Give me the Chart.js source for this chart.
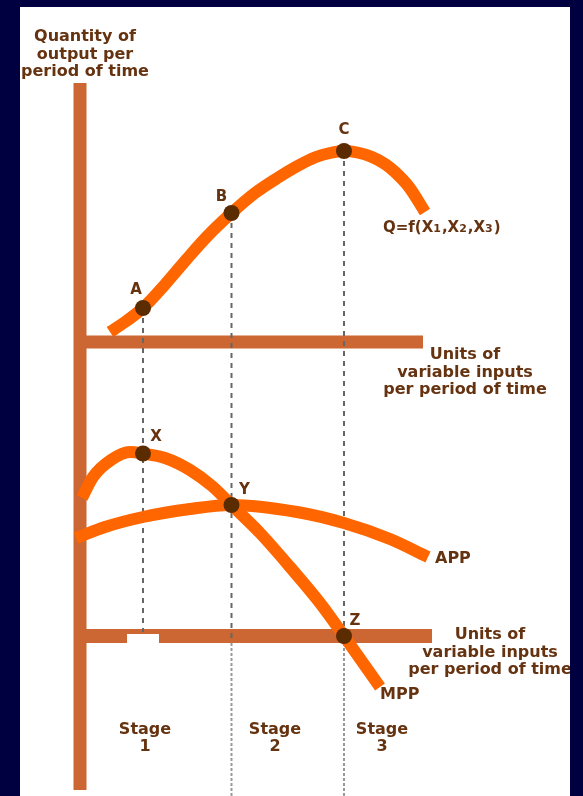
<!DOCTYPE html>
<html>
<head>
<meta charset="utf-8">
<title>Stages of production</title>
<script src="https://cdn.jsdelivr.net/npm/chart.js@4.4.1/dist/chart.umd.min.js"></script>
<style>
  html, body { margin: 0; padding: 0; background: #000040; }
  body { width: 583px; height: 796px; position: relative; overflow: hidden; }
  #chart { position: absolute; left: 20px; top: 7px; background: #ffffff; }
</style>
</head>
<body>
<canvas id="chart" width="550" height="789"></canvas>
<script>
  // total product curve Q = f(X1,X2,X3)
  const qInputs = [1.2, 1.8, 2.52, 3.4, 4.24, 5.1, 6.06, 7.0, 7.96, 8.7, 9.44, 10.0, 10.56, 11.1, 11.68, 12.2, 12.6, 13.16, 13.8];
  const qOutput = [0.4, 0.8, 1.36, 2.3, 3.28, 4.24, 5.16, 5.96, 6.6, 7.04, 7.4, 7.56, 7.64, 7.58, 7.4, 7.12, 6.8, 6.2, 5.2];

  // marginal physical product
  const mppInputs = [0.08, 0.52, 1.24, 2.0, 2.52, 3.4, 4.4, 5.28, 6.06, 7.2, 8.4, 9.6, 10.56, 12.0];
  const mppValues = [5.52, 6.36, 7.04, 7.36, 7.3, 7.12, 6.64, 6.0, 5.24, 4.12, 2.76, 1.32, 0.0, -2.04];

  // average physical product
  const appInputs = [-0.16, 1.0, 2.52, 4.4, 6.06, 8.68, 10.56, 12.4, 13.92];
  const appValues = [3.92, 4.36, 4.76, 5.08, 5.24, 4.96, 4.52, 3.88, 3.16];

  // marked points
  const topPointNames = ['A', 'B', 'C'];
  const topPointInputs = [2.52, 6.06, 10.56];
  const topPointValues = [1.36, 5.16, 7.64];

  const lowPointNames = ['X', 'Y', 'Z'];
  const lowPointInputs = [2.52, 6.06, 10.56];
  const lowPointValues = [7.3, 5.24, 0];

  const stageNames = ['Stage\n1', 'Stage\n2', 'Stage\n3'];

  const brown = '#663311';
  const orange = '#ff6600';
  const axisColor = '#cc6633';
  const dotColor = '#5a2c00';
  const fontFace = '"DejaVu Sans", sans-serif';

  function pts(xs, ys) {
    return xs.map((x, i) => ({ x: x, y: ys[i] }));
  }

  function curve(data, axis) {
    return {
      data: data, yAxisID: axis, showLine: true, order: 3,
      borderColor: orange, borderWidth: 12, borderCapStyle: 'butt',
      cubicInterpolationMode: 'monotone', pointRadius: 0
    };
  }

  function bar(data, axis, color, width) {
    return {
      data: data, yAxisID: axis, showLine: true, order: 6,
      borderColor: color, borderWidth: width, borderCapStyle: 'butt', pointRadius: 0
    };
  }

  function dashed(data, axis, dash, color) {
    return {
      data: data, yAxisID: axis, showLine: true, order: 4,
      borderColor: color, borderWidth: 2, borderDash: dash, pointRadius: 0
    };
  }

  function dots(data, axis) {
    return {
      data: data, yAxisID: axis, order: 1,
      pointRadius: 8, pointBackgroundColor: dotColor, pointBorderWidth: 0
    };
  }

  // text placed in data units of each panel
  const texts = [
    { axis: 'yQ', x: 0.2, y: 12.2, lines: ['Quantity of', 'output per', 'period of time'], align: 'center' },
    { axis: 'yQ', x: 15.4, y: -0.52, lines: ['Units of', 'variable inputs', 'per period of time'], align: 'center' },
    { axis: 'yP', x: 16.4, y: 0.04, lines: ['Units of', 'variable inputs', 'per period of time'], align: 'center' },
    { axis: 'yP', x: 14.2, y: 3.08, lines: ['APP'], align: 'left' },
    { axis: 'yP', x: 12.0, y: -2.36, lines: ['MPP'], align: 'left' }
  ];
  const stageAt = [2.6, 7.8, 12.08];
  const labelOffsets = { A: [-7, -18], B: [-10, -16], C: [0, -21], X: [13, -16], Y: [13, -15], Z: [11, -15] };

  const textPlugin = {
    id: 'texts',
    afterDatasetsDraw(chart) {
      const ctx = chart.ctx;
      const sx = chart.scales.x;
      ctx.save();
      ctx.fillStyle = brown;
      ctx.textBaseline = 'middle';
      ctx.font = 'bold 16px ' + fontFace;

      texts.forEach(t => {
        const px = sx.getPixelForValue(t.x);
        const py = chart.scales[t.axis].getPixelForValue(t.y);
        ctx.textAlign = t.align;
        t.lines.forEach((line, i) => ctx.fillText(line, px, py + i * 17.5));
      });

      ctx.textAlign = 'center';
      stageNames.forEach((s, i) => {
        const px = sx.getPixelForValue(stageAt[i]);
        const py = chart.scales.yP.getPixelForValue(-3.76);
        s.split('\n').forEach((line, j) => ctx.fillText(line, px, py + j * 17));
      });

      // point letters
      ctx.font = 'bold 15px ' + fontFace;
      const drawNames = (names, xs, ys, axis) => names.forEach((n, i) => {
        const px = sx.getPixelForValue(xs[i]) + labelOffsets[n][0];
        const py = chart.scales[axis].getPixelForValue(ys[i]) + labelOffsets[n][1];
        ctx.fillText(n, px, py);
      });
      drawNames(topPointNames, topPointInputs, topPointValues, 'yQ');
      drawNames(lowPointNames, lowPointInputs, lowPointValues, 'yP');

      // Q=f(X1,X2,X3) with subscripts
      let qx = sx.getPixelForValue(12.12);
      const qy = chart.scales.yQ.getPixelForValue(4.56);
      ctx.textAlign = 'left';
      [['Q=f(X', 0], ['1', 1], [',X', 0], ['2', 1], [',X', 0], ['3', 1], [')', 0]].forEach(([s, sub]) => {
        ctx.font = sub ? 'bold 11px ' + fontFace : 'bold 15px ' + fontFace;
        ctx.fillText(s, qx, qy + (sub ? 1 : 0));
        qx += ctx.measureText(s).width + (sub ? 1 : 0);
      });
      ctx.restore();
    }
  };

  const datasets = [
    dots(pts(topPointInputs, topPointValues), 'yQ'),
    dots(pts(lowPointInputs, lowPointValues), 'yP'),
    curve(pts(qInputs, qOutput), 'yQ'),
    curve(pts(mppInputs, mppValues), 'yP'),
    curve(pts(appInputs, appValues), 'yP'),
    // guide lines
    dashed([{ x: 2.52, y: 1.36 }, { x: 2.52, y: -11.6 }], 'yQ', [5, 5], '#666666'),
    dashed([{ x: 6.06, y: 5.16 }, { x: 6.06, y: -12.04 }], 'yQ', [5, 5], '#666666'),
    dashed([{ x: 10.56, y: 7.64 }, { x: 10.56, y: -12.04 }], 'yQ', [5, 5], '#666666'),
    dashed([{ x: 6.06, y: -0.28 }, { x: 6.06, y: -6.4 }], 'yP', [3, 2], '#999999'),
    dashed([{ x: 10.56, y: -0.28 }, { x: 10.56, y: -6.4 }], 'yP', [3, 2], '#999999'),
    // axes
    bar([{ x: 0, y: 10.36 }, { x: 0, y: -17.92 }], 'yQ', axisColor, 13),
    bar([{ x: -0.24, y: 0 }, { x: 13.72, y: 0 }], 'yQ', axisColor, 13),
    bar([{ x: 0, y: 0 }, { x: 14.08, y: 0 }], 'yP', axisColor, 14),
    Object.assign(bar([{ x: 1.88, y: -0.1 }, { x: 3.16, y: -0.1 }], 'yP', '#ffffff', 9), { order: 5 })
  ];

  new Chart(document.getElementById('chart'), {
    type: 'scatter',
    data: { datasets: datasets },
    options: {
      responsive: false,
      devicePixelRatio: 1,
      animation: false,
      events: [],
      layout: { padding: 0, autoPadding: false },
      plugins: { legend: { display: false }, tooltip: { enabled: false } },
      scales: {
        x: { type: 'linear', min: -2.4, max: 19.6, display: false },
        yQ: { type: 'linear', min: -18.16, max: 13.4, display: false },
        yP: { type: 'linear', min: -6.4, max: 25.16, display: false }
      }
    },
    plugins: [textPlugin]
  });
</script>
</body>
</html>
